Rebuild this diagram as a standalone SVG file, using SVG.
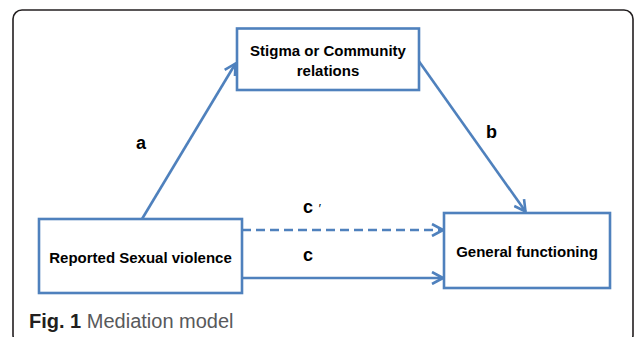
<svg xmlns="http://www.w3.org/2000/svg" width="634" height="337" viewBox="0 0 634 337">
<style>
.box{fill:#ffffff;stroke:#4f81bd;stroke-width:2.6}
.lbl{font-family:"Liberation Sans",Arial,sans-serif;font-weight:bold;font-size:15px;fill:#000;text-anchor:middle}
.edge{font-family:"Liberation Sans",Arial,sans-serif;font-weight:bold;font-size:18px;fill:#000}
.con{fill:none;stroke:#4f81bd;stroke-width:2.6}
</style>
<defs>
<marker id="arr" viewBox="0 0 14 14" refX="12.5" refY="7" markerWidth="14" markerHeight="14" orient="auto" markerUnits="userSpaceOnUse">
<path d="M1.5,1 L12.5,7 L1.5,13" fill="none" stroke="#4f81bd" stroke-width="2.6" stroke-linejoin="miter"/>
</marker>
</defs>
<rect width="634" height="337" fill="#ffffff"/>
<rect x="13" y="10" width="620" height="334" rx="9" ry="9" fill="none" stroke="#231f20" stroke-width="1.6"/>
<g id="connectors">
<line class="con" x1="142" y1="219" x2="235.5" y2="63.5" marker-end="url(#arr)"/>
<line class="con" x1="418" y1="60" x2="525.5" y2="211.5" marker-end="url(#arr)"/>
<line class="con" x1="242" y1="230" x2="443" y2="230" stroke-dasharray="9,5" marker-end="url(#arr)"/>
<line class="con" x1="242" y1="278" x2="443" y2="278" marker-end="url(#arr)"/>
<text class="edge" x="136" y="149">a</text>
<text class="edge" x="486" y="138">b</text>
<text class="edge" x="303" y="213">c <tspan font-weight="normal" font-size="13px" font-style="italic">′</tspan></text>
<text class="edge" x="303" y="261">c</text>
</g>
<g id="node-stigma">
<rect class="box" x="237" y="28.5" width="182" height="61.5"/>
<text class="lbl" x="328" y="55.5">Stigma or Community</text>
<text class="lbl" x="328" y="76">relations</text>
</g>
<g id="node-sexual-violence">
<rect class="box" x="39" y="219" width="203" height="74"/>
<text class="lbl" x="140.5" y="262.5">Reported Sexual violence</text>
</g>
<g id="node-general-functioning">
<rect class="box" x="444" y="213" width="166" height="75"/>
<text class="lbl" x="527" y="257">General functioning</text>
</g>
<text x="29" y="328" font-family="'Liberation Sans',Arial,sans-serif" font-size="20px" fill="#58595b"><tspan font-weight="bold" fill="#231f20">Fig. 1</tspan> Mediation model</text>
</svg>
